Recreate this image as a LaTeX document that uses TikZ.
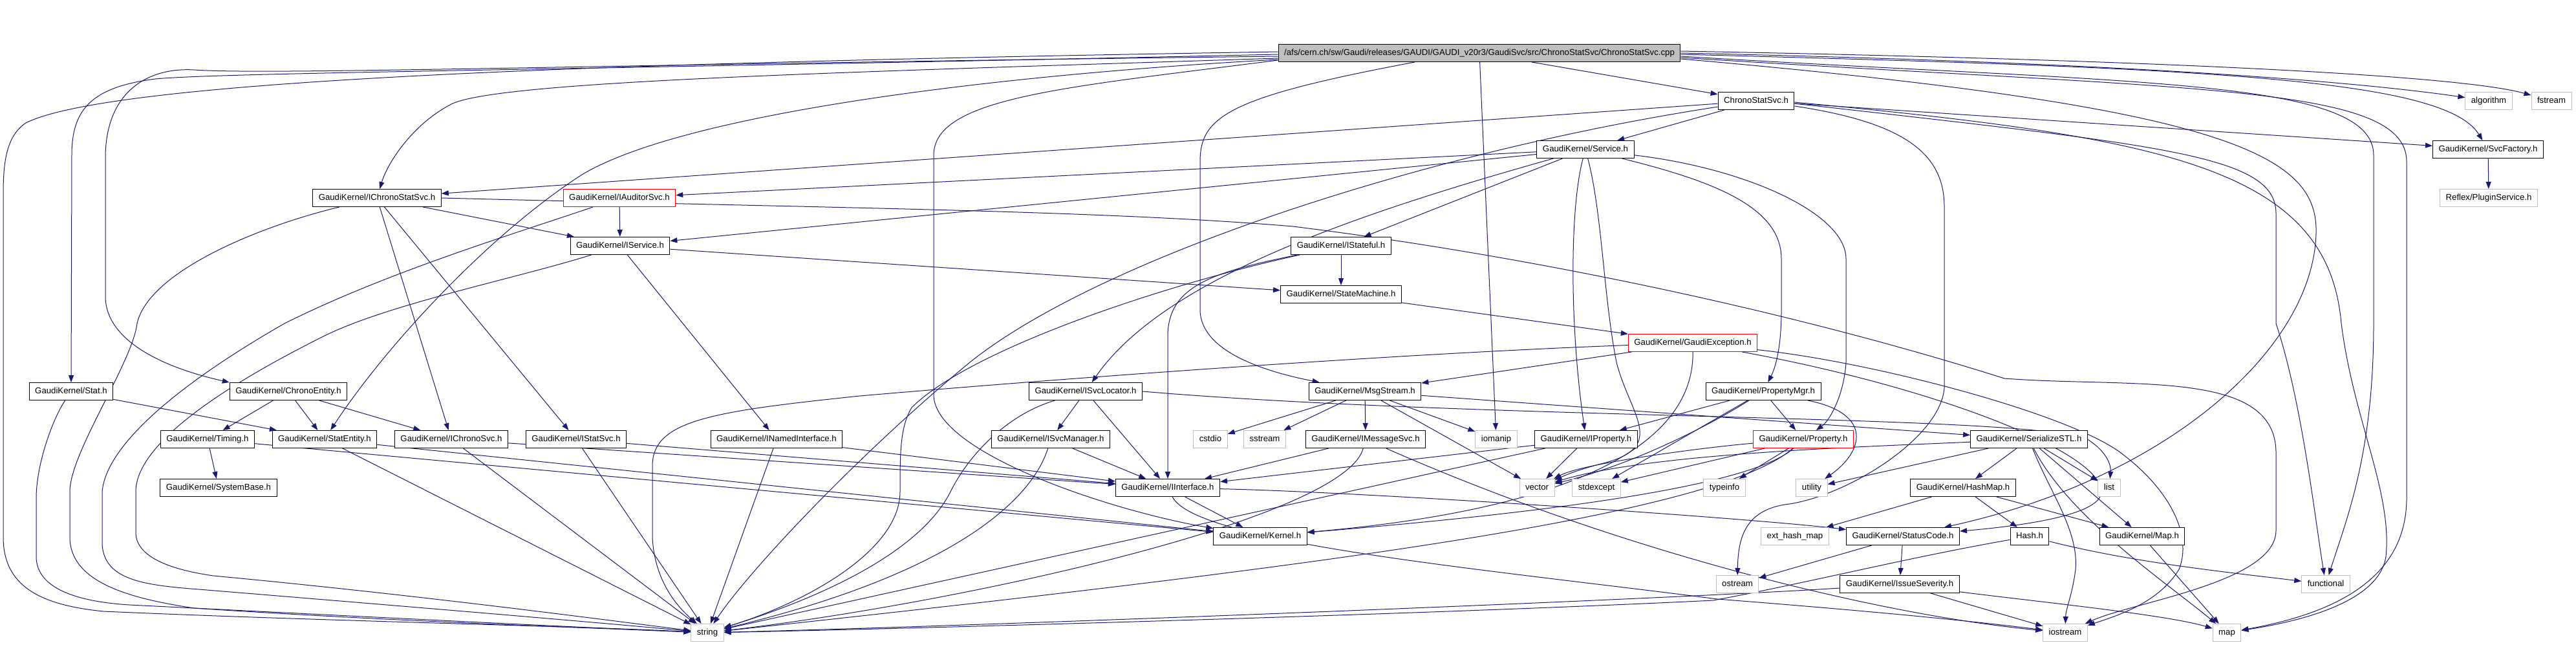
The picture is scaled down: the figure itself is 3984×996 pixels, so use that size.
\documentclass[tikz,border=0pt]{standalone}
\usepackage{fontspec}
\setmainfont{Liberation Sans}
\usetikzlibrary{arrows.meta,backgrounds}
\definecolor{edgeblue}{HTML}{191970}
\definecolor{nolink}{HTML}{BFBFBF}
\definecolor{srcfill}{HTML}{BFBFBF}
\tikzset{
  hbox/.style={draw=black,fill=white,line width=1pt,minimum height=27pt,inner xsep=9pt,inner ysep=0pt,
    text height=10pt,text depth=3pt,font=\fontsize{13.2}{15}\selectfont},
  hred/.style={hbox,draw=red},
  hsys/.style={hbox,draw=nolink},
  hsrc/.style={hbox,fill=srcfill},
  inc/.style={-{Triangle[length=11pt,width=8pt]},line width=1pt,draw=edgeblue}
}

\begin{document}
\begin{tikzpicture}[x=1pt,y=-1pt]
  \useasboundingbox (0,0) rectangle (3984,996);
  % source file and first level
  \node[hsrc] (m) at (2288,82) {/afs/cern.ch/sw/Gaudi/releases/GAUDI/GAUDI\_v20r3/GaudiSvc/src/ChronoStatSvc/ChronoStatSvc.cpp};
  \node[hbox] (csh) at (2716,156) {ChronoStatSvc.h};
  \node[hsys] (algorithm) at (3849,156) {algorithm};
  \node[hsys] (fstream) at (3946,156) {fstream};
  \node[hbox] (svc) at (2452,231) {GaudiKernel/Service.h};
  \node[hbox] (sf) at (3848,231) {GaudiKernel/SvcFactory.h};
  \node[hbox] (ics) at (583,306) {GaudiKernel/IChronoStatSvc.h};
  \node[hred] (iaud) at (958,306) {GaudiKernel/IAuditorSvc.h};
  \node[hsys] (ps) at (3849,306) {Reflex/PluginService.h};
  \node[hbox] (is) at (959,380) {GaudiKernel/IService.h};
  \node[hbox] (istf) at (2074,380) {GaudiKernel/IStateful.h};
  \node[hbox] (sm) at (2074,455) {GaudiKernel/StateMachine.h};
  \node[hred] (ge) at (2618,530) {GaudiKernel/GaudiException.h};
  % kernel headers, rows 7 to 11
  \foreach \x/\nm/\lb in {110/stat/Stat.h,446/ce/ChronoEntity.h,1679/isl/ISvcLocator.h,
      2111/ms/MsgStream.h,2727/pm/PropertyMgr.h}
    \node[hbox] (\nm) at (\x,605) {GaudiKernel/\lb};
  \foreach \x/\nm/\lb in {321/timing/Timing.h,502/se/StatEntity.h,698/ich/IChronoSvc.h,
      891/ist/IStatSvc.h,1201/ini/INamedInterface.h,1625/ism/ISvcManager.h,2112/ims/IMessageSvc.h,
      2453/ip/IProperty.h,3138/sstl/SerializeSTL.h}
    \node[hbox] (\nm) at (\x,679) {GaudiKernel/\lb};
  \node[hred] (prop) at (2789,679) {GaudiKernel/Property.h};
  \foreach \x/\nm/\lb in {338/sb/SystemBase.h,1806/ii/IInterface.h,3036/hm/HashMap.h}
    \node[hbox] (\nm) at (\x,754) {GaudiKernel/\lb};
  \foreach \x/\nm/\lb in {1949/k/Kernel.h,2943/sc/StatusCode.h,3313/mapk/Map.h}
    \node[hbox] (\nm) at (\x,829) {GaudiKernel/\lb};
  \node[hbox] (hash) at (3139,829) {Hash.h};
  \node[hbox] (isev) at (2938,903) {GaudiKernel/IssueSeverity.h};
  % system headers
  \foreach \x/\y/\nm/\lb in {1872/679/cstdio/cstdio,1956/679/sstream/sstream,2314/679/iomanip/iomanip,
      2377/754/vector/vector,2469/754/stdexcept/stdexcept,2667/754/typeinfo/typeinfo,
      2802/754/utility/utility,3262/754/list/list,2776/829/ehm/ext\_hash\_map,
      2687/903/ostream/ostream,3597/903/functional/functional,
      1094/978/string/string,3194/978/iostream/iostream,3444/978/map/map}
    \node[hsys] (\nm) at (\x,\y) {\lb};

  \begin{scope}[on background layer]
  % straight includes
  \foreach \a/\b in {m/iomanip,m/csh,csh/svc,csh/ics,csh/sf,sf/ps,svc/is,svc/iaud,svc/istf,
      ics/is,ics/ich,ics/ist,iaud/is,is/ini,is/sm,istf/sm,sm/ge,ge/ms,stat/se,ce/timing,ce/se,ce/ich,
      timing/sb,timing/k,se/string,se/k,ich/ii,ich/string,ist/ii,ist/string,ini/ii,ini/string,
      isl/ism,isl/ii,ism/ii,ms/ims,ms/iomanip,ms/vector,ms/cstdio,ms/sstream,ms/sstl,
      pm/ip,pm/prop,pm/stdexcept,ims/ii,ip/ii,ip/vector,ip/string,prop/typeinfo,prop/stdexcept,
      sstl/utility,sstl/hm,sstl/mapk,sstl/list,hm/ehm,hm/hash,hm/mapk,mapk/map,
      sc/isev,sc/ostream,isev/iostream,ii/k}
    \draw[inc] (\a) -- (\b);
  % long includes from the source file
  \draw[inc] ([yshift=2pt]m.west) .. controls (1000,96) and (180,120) .. (40,190)
    .. controls (10,210) and (5,250) .. (5,300) -- (5,830) .. controls (5,905) and (60,935) .. (160,945)
    .. controls (500,960) and (900,968) .. (string);
  \draw[inc] ([yshift=-2pt]m.west) .. controls (900,108) and (350,112) .. (240,122)
    .. controls (140,135) and (111,170) .. (111,240) -- (stat);
  \draw[inc] ([yshift=-5pt]m.west) .. controls (900,100) and (420,116) .. (300,108)
    .. controls (230,104) and (165,140) .. (163,240) -- (163,460) .. controls (165,530) and (260,570) .. (ce.north west);
  \draw[inc] ([yshift=-8pt]m.west) .. controls (1300,112) and (780,125) .. (700,160)
    .. controls (640,190) and (600,250) .. (ics);
  \draw[inc] ([yshift=-10pt]m.west) .. controls (1500,118) and (1050,180) .. (900,270)
    .. controls (760,360) and (600,530) .. (se);
  \draw[inc] ([yshift=-11pt]m.west) .. controls (1650,135) and (1444,150) .. (1444,240) -- (1444,610)
    .. controls (1444,700) and (1720,790) .. (k);
  \draw[inc] ([xshift=-100pt]m.south) .. controls (1900,150) and (1856,180) .. (1856,250) -- (1856,480)
    .. controls (1858,545) and (1960,575) .. (ms);
  \draw[inc] (m.east) .. controls (3200,95) and (3600,120) .. (algorithm);
  \draw[inc] ([yshift=3pt]m.east) .. controls (3300,92) and (3800,115) .. (fstream);
  \draw[inc] ([yshift=-2pt]m.east) .. controls (3400,105) and (3780,120) .. (sf);
  \draw[inc] ([yshift=-5pt]m.east) .. controls (3300,130) and (3671,120) .. (3671,240) -- (3671,500)
    .. controls (3671,700) and (3630,800) .. (functional);
  \draw[inc] ([yshift=-7pt]m.east) .. controls (3400,140) and (3722,130) .. (3722,250) -- (3722,770)
    .. controls (3722,900) and (3600,950) .. (map);
  \draw[inc] ([yshift=-9pt]m.east) .. controls (3450,165) and (3585,240) .. (3582,360)
    .. controls (3578,540) and (3350,740) .. (sc);
  % ChronoStatSvc.h
  \draw[inc] (csh) .. controls (2200,235) and (1700,400) .. (1500,560)
    .. controls (1330,700) and (1160,880) .. (string);
  \draw[inc] ([yshift=-4pt]csh.east) .. controls (3350,225) and (3520,240) .. (3520,330) -- (3520,500)
    .. controls (3560,620) and (3580,800) .. (functional);
  \draw[inc] ([yshift=-2pt]csh.east) .. controls (3350,212) and (3600,260) .. (3621,500)
    .. controls (3640,650) and (3700,760) .. (3690,860) .. controls (3680,930) and (3560,960) .. (map);
  \draw[inc] ([yshift=-8pt]csh.east) .. controls (2950,190) and (3007,240) .. (3007,320) -- (3007,600)
    .. controls (3000,680) and (2850,770) .. (2760,780) .. controls (2700,790) and (2688,830) .. (ostream);
  % Service.h
  \draw[inc] (svc) .. controls (2100,330) and (1800,430) .. (isl);
  \draw[inc] (svc) .. controls (2428,320) and (2427,500) .. (ip);
  \draw[inc] (svc) .. controls (2478,330) and (2480,460) .. (2500,560)
    .. controls (2520,640) and (2580,690) .. (2480,716) .. controls (2440,726) and (2420,735) .. (vector);
  \draw[inc] (svc) .. controls (2650,280) and (2755,320) .. (2755,400) -- (2755,480)
    .. controls (2755,540) and (2745,570) .. (pm);
  \draw[inc] (svc) .. controls (2700,260) and (2855,330) .. (2855,400) -- (2855,560)
    .. controls (2852,610) and (2830,650) .. (prop);
  % left loops into string
  \draw[inc] (ics) .. controls (400,350) and (230,420) .. (212,500) .. controls (205,560) and (108,700) .. (108,760)
    -- (108,830) .. controls (108,900) and (200,925) .. (300,940) .. controls (600,960) and (900,970) .. (string);
  \draw[inc] (iaud) .. controls (800,360) and (600,420) .. (440,500) .. controls (300,580) and (165,680) .. (158,760)
    -- (158,840) .. controls (160,900) and (230,905) .. (320,912) .. controls (600,935) and (900,960) .. (string);
  \draw[inc] (is) .. controls (800,430) and (600,470) .. (500,520) .. controls (300,620) and (210,700) .. (210,760)
    -- (210,825) .. controls (212,860) and (260,880) .. (330,890) .. controls (650,920) and (950,960) .. (string);
  \draw[inc] (stat) .. controls (80,650) and (56,720) .. (56,770) -- (56,860)
    .. controls (56,910) and (120,930) .. (200,935) .. controls (600,955) and (900,970) .. (string);
  \draw[inc] (ics.east) .. controls (1300,322) and (1700,325) .. (2000,350) .. controls (2400,400) and (2800,490) .. (3100,585)
    .. controls (3300,600) and (3520,570) .. (3520,700) -- (3520,820) .. controls (3520,900) and (3300,930) .. (iostream);
  % IStateful.h, GaudiException.h
  \draw[inc] (istf) .. controls (1880,420) and (1806,440) .. (1806,520) -- (ii);
  \draw[inc] (istf) .. controls (1800,440) and (1500,540) .. (1410,630)
    .. controls (1392,660) and (1392,700) .. (1392,760) .. controls (1392,850) and (1250,930) .. (string);
  \draw[inc] (ge) .. controls (2200,545) and (1700,580) .. (1330,612)
    .. controls (1100,636) and (1009,650) .. (1009,720) -- (1009,830) .. controls (1012,900) and (1050,940) .. (string);
  \draw[inc] (ge) .. controls (2900,560) and (3200,640) .. (3280,700)
    .. controls (3360,760) and (3390,830) .. (3370,880) .. controls (3340,930) and (3280,950) .. (iostream);
  \draw[inc] (ge) .. controls (3000,600) and (3250,700) .. (3250,760) .. controls (3250,800) and (3100,815) .. (sc);
  \draw[inc] (ge) .. controls (2620,700) and (2400,790) .. (k);
  % lower rows
  \draw[inc] (isl) .. controls (1560,640) and (1500,700) .. (1470,760) .. controls (1420,860) and (1250,930) .. (string);
  \draw[inc] (isl.east) .. controls (2300,650) and (3150,640) .. (3230,680) .. controls (3260,700) and (3265,720) .. (list);
  \draw[inc] (ism) .. controls (1600,760) and (1500,880) .. (string);
  \draw[inc] (pm) .. controls (2640,660) and (2520,720) .. (vector);
  \draw[inc] (pm) .. controls (2900,640) and (2880,700) .. (utility);
  \draw[inc] (ims) .. controls (2080,800) and (1500,930) .. (string);
  \draw[inc] (ims) .. controls (2500,850) and (2900,950) .. (iostream);
  \draw[inc] (prop) .. controls (2650,690) and (2450,715) .. (vector);
  \draw[inc] (prop) .. controls (2650,800) and (2000,880) .. (string);
  \draw[inc] (prop) .. controls (2700,760) and (2300,800) .. (k);
  \draw[inc] (sstl) .. controls (2900,690) and (2550,700) .. (vector);
  \draw[inc] (sstl) .. controls (3200,800) and (3350,900) .. (map);
  \draw[inc] (sstl) .. controls (3170,760) and (3215,820) .. (3210,880) .. controls (3205,920) and (3195,940) .. (iostream);
  \draw[inc] (hash) .. controls (3300,870) and (3450,885) .. (functional);
  \draw[inc] (hash) .. controls (2950,862) and (2800,900) .. (2650,928) .. controls (2200,950) and (1400,972) .. (string);
  \draw[inc] (isev) .. controls (2600,925) and (1600,965) .. (string);
  \draw[inc] (isev) .. controls (3150,930) and (3350,950) .. (map);
  \draw[inc] (ii) .. controls (2100,760) and (2700,800) .. (sc);
  \draw[inc] (ii) .. controls (1850,840) and (2300,880) .. (2656,926) .. controls (2900,945) and (3050,960) .. (iostream);
  \end{scope}
\end{tikzpicture}
\end{document}
